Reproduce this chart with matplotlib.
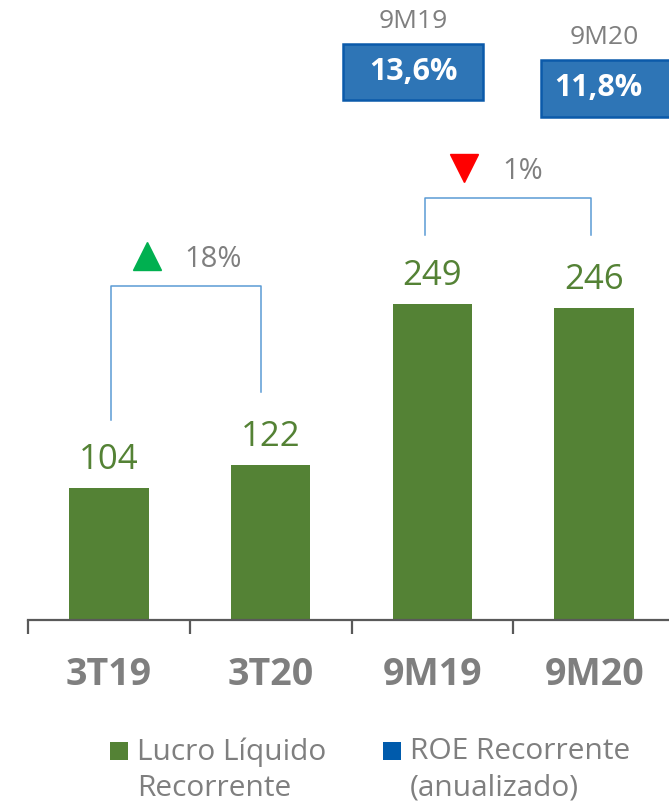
import matplotlib

matplotlib.use("Agg")
import matplotlib.pyplot as plt
from matplotlib.patches import Rectangle

# data
CATEGORIES = ["3T19", "3T20", "9M19", "9M20"]
LUCRO = [104, 122, 249, 246]
ROE_PERIODS = ["9M19", "9M20"]
ROE_VALUES = ["13,6%", "11,8%"]
VAR_LABELS = ["18%", "1%"]
LEGEND_LABELS = ["Lucro Líquido\nRecorrente", "ROE Recorrente\n(anualizado)"]

GREEN = "#548235"
BLUE_FILL = "#2E75B6"
BLUE_EDGE = "#0B5AAA"
LEGEND_BLUE = "#005BAC"
GRAY = "#7F7F7F"
BRACKET = "#5B9BD5"

W, H = 669, 805


def fx(px):
    return px / W


def fy(py):
    return 1 - py / H


def main() -> None:
    plt.rcParams["font.family"] = ["Open Sans", "DejaVu Sans"]
    fig = plt.figure(figsize=(W / 100, H / 100), dpi=100)
    fig.patch.set_facecolor("white")

    # axes: baseline at 620 px, 1.27 px per unit
    ax = fig.add_axes([fx(28), fy(620), (675 - 28) / W, 620 / H])
    x = list(range(len(CATEGORIES)))
    ax.bar(x, LUCRO, width=0.49, color=GREEN, zorder=2)
    ax.set_xlim(-0.5, len(CATEGORIES) - 0.5)
    ax.set_ylim(0, 620 / 1.27)

    for xi, v in zip(x, LUCRO):
        ax.text(xi, v + 15, f"{v}", ha="center", va="baseline", fontsize=25, color=GREEN)

    for side in ("top", "right", "left"):
        ax.spines[side].set_visible(False)
    ax.spines["bottom"].set_color("#595959")
    ax.spines["bottom"].set_linewidth(1.6)
    ax.set_yticks([])
    ax.set_xticks(x)
    ax.set_xticklabels(CATEGORIES, fontsize=27, fontweight="bold", color=GRAY)
    ax.tick_params(axis="x", which="major", length=0, pad=26)
    ax.set_xticks([i - 0.5 for i in range(len(CATEGORIES) + 1)], minor=True)
    ax.tick_params(axis="x", which="minor", length=10, width=1.6, color="#595959", direction="out")

    # variation brackets
    ax.plot([0.012, 0.012, 0.938, 0.938], [157.5, 263, 263, 179.5], color=BRACKET, lw=1.1, zorder=1)
    ax.plot([1.957, 1.957, 2.98, 2.98], [303, 332, 332, 303], color=BRACKET, lw=1.1, zorder=1)
    ax.plot([0.235], [286.6], marker="^", markersize=20, color="#00B050", clip_on=False)
    ax.plot([2.198], [356], marker="v", markersize=20, color="#FF0000", clip_on=False)
    ax.text(0.469, 283.5, VAR_LABELS[0], ha="left", va="center", fontsize=21, color=GRAY)
    ax.text(2.43, 352.8, VAR_LABELS[1], ha="left", va="center", fontsize=21, color=GRAY)

    # ROE boxes
    boxes = [(343, 44, 483, 100), (541, 60, 685, 117)]
    label_y = [21, 37]
    for (x0, y0, x1, y1), period, val, ly in zip(boxes, ROE_PERIODS, ROE_VALUES, label_y):
        fig.patches.append(
            Rectangle((fx(x0), fy(y1)), (x1 - x0) / W, (y1 - y0) / H, transform=fig.transFigure,
                      facecolor=BLUE_FILL, edgecolor=BLUE_EDGE, linewidth=1.8)
        )
        cx = (x0 + x1) / 2 if x1 <= 669 else 598
        fig.text(fx(cx if x1 <= 669 else 604), fy(ly), period, ha="center", va="center",
                 fontsize=19, color=GRAY)
        fig.text(fx(cx), fy((y0 + y1) / 2), val, ha="center", va="center", fontsize=22,
                 fontweight="bold", color="white")

    # legend
    for (sx, tx), col, lab in zip([(110, 137), (383, 410)], [GREEN, LEGEND_BLUE], LEGEND_LABELS):
        fig.patches.append(
            Rectangle((fx(sx), fy(760)), 18 / W, 18 / H, transform=fig.transFigure,
                      facecolor=col, edgecolor="none")
        )
        fig.text(fx(tx), fy(737), lab, ha="left", va="top", fontsize=21.5, color=GRAY,
                 linespacing=1.32)

    fig.savefig("out.png", dpi=100, facecolor="white")
    plt.close(fig)


if __name__ == "__main__":
    main()
